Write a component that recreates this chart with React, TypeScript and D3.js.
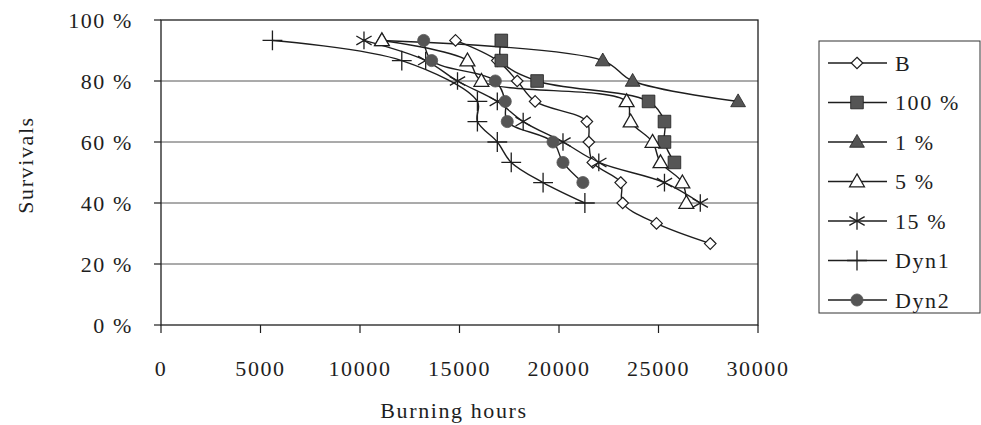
import React from 'react'
import * as d3 from 'd3'

// survival curves (hours, % surviving)
const B_HOURS = [14800, 16900, 17900, 18800, 21400, 21500, 21700, 23100, 23200, 24900, 27600]
const B_SURV = [93.3, 86.7, 80, 73.3, 66.7, 60, 53.3, 46.7, 40, 33.3, 26.7]

const P100_HOURS = [17100, 17100, 18900, 24500, 25300, 25300, 25800]
const P100_SURV = [93.3, 86.7, 80, 73.3, 66.7, 60, 53.3]

const P1_HOURS = [11100, 22200, 23700, 29000]
const P1_SURV = [93.3, 86.7, 80, 73.3]

const P5_HOURS = [11100, 15400, 16100, 23400, 23600, 24700, 25100, 26200, 26400]
const P5_SURV = [93.3, 86.7, 80, 73.3, 66.7, 60, 53.3, 46.7, 40]

const P15_HOURS = [10200, 13300, 14900, 16900, 18200, 20200, 22000, 25300, 27100]
const P15_SURV = [93.3, 86.7, 80, 73.3, 66.7, 60, 53.3, 46.7, 40]

const DYN1_HOURS = [5600, 12100, 15900, 15900, 16900, 17600, 19200, 21300]
const DYN1_SURV = [93.3, 86.7, 73.3, 66.7, 60, 53.3, 46.7, 40]

const DYN2_HOURS = [13200, 13600, 16800, 17300, 17400, 19700, 20200, 21200]
const DYN2_SURV = [93.3, 86.7, 80, 73.3, 66.7, 60, 53.3, 46.7]

const X_TICKS = [0, 5000, 10000, 15000, 20000, 25000, 30000]
const Y_TICKS = [0, 20, 40, 60, 80, 100]

type Mark = 'diamond' | 'square' | 'triFill' | 'triOpen' | 'asterisk' | 'plus' | 'circle'

interface Series { label: string; mark: Mark; hours: number[]; surv: number[] }

const SERIES: Series[] = [
  { label: 'B', mark: 'diamond', hours: B_HOURS, surv: B_SURV },
  { label: '100 %', mark: 'square', hours: P100_HOURS, surv: P100_SURV },
  { label: '1 %', mark: 'triFill', hours: P1_HOURS, surv: P1_SURV },
  { label: '5 %', mark: 'triOpen', hours: P5_HOURS, surv: P5_SURV },
  { label: '15 %', mark: 'asterisk', hours: P15_HOURS, surv: P15_SURV },
  { label: 'Dyn1', mark: 'plus', hours: DYN1_HOURS, surv: DYN1_SURV },
  { label: 'Dyn2', mark: 'circle', hours: DYN2_HOURS, surv: DYN2_SURV },
]

const W = 981, H = 425
const PL = 161, PR = 758, PT = 20, PB = 325
const INK = '#1e1e1e'
const DARK = '#555'
const FONT = '"Liberation Serif", "Times New Roman", serif'
const FS = 22
const LS = 1.6

const x = d3.scaleLinear().domain([0, 30000]).range([PL, PR])
const y = d3.scaleLinear().domain([0, 100]).range([PB, PT])

const line = d3.line<[number, number]>()
  .x(d => x(d[0])).y(d => y(d[1]))
  .curve(d3.curveCatmullRom.alpha(0.5))

function Marker({ mark, cx, cy }: { mark: Mark; cx: number; cy: number }) {
  const t = `translate(${cx},${cy})`
  switch (mark) {
    case 'diamond':
      return <path transform={t} d={d3.symbol(d3.symbolDiamond2, 85)()!} fill="#fff" stroke={INK} strokeWidth={1.2} />
    case 'square':
      return <path transform={t} d={d3.symbol(d3.symbolSquare, 160)()!} fill={DARK} stroke={INK} strokeWidth={0.8} />
    case 'triFill':
      return <path transform={`translate(${cx},${cy + 1})`} d={d3.symbol(d3.symbolTriangle, 95)()!} fill={DARK} stroke={INK} strokeWidth={0.8} />
    case 'triOpen':
      return <path transform={`translate(${cx},${cy + 1})`} d={d3.symbol(d3.symbolTriangle, 95)()!} fill="#fff" stroke={INK} strokeWidth={1.3} />
    case 'asterisk':
      return <path transform={t} d={d3.symbol(d3.symbolAsterisk, 220)()!} fill="none" stroke={INK} strokeWidth={1.3} />
    case 'plus':
      return <path transform={t} d={d3.symbol(d3.symbolPlus, 130)()!} fill="none" stroke={INK} strokeWidth={1.3} />
    case 'circle':
      return <path transform={t} d={d3.symbol(d3.symbolCircle, 115)()!} fill={DARK} stroke={DARK} strokeWidth={0.8} />
  }
}

export default function App() {
  const legendX = 819, legendY = 41, legendW = 161, legendH = 272
  const rowH = 39.5

  return (
    <div style={{ position: 'absolute', left: 0, top: 0, background: '#fff' }}>
      <svg width={W} height={H} viewBox={`0 0 ${W} ${H}`} style={{ display: 'block', fontFamily: FONT }}>
        <rect width={W} height={H} fill="#fff" />

        {/* grid */}
        {Y_TICKS.filter(v => v > 0 && v < 100).map(v => (
          <line key={v} x1={PL} x2={PR} y1={y(v)} y2={y(v)} stroke="#444" strokeWidth={0.9} />
        ))}

        {/* frame */}
        <rect x={PL} y={PT} width={PR - PL} height={PB - PT} fill="none" stroke={INK} strokeWidth={1.3} />

        {/* y axis */}
        {Y_TICKS.map(v => (
          <g key={v}>
            <line x1={PL - 7} x2={PL} y1={y(v)} y2={y(v)} stroke={INK} strokeWidth={1.2} />
            <text x={133} y={y(v)} dy="0.35em" textAnchor="end" fontSize={FS} fill={INK} letterSpacing={LS}>
              {`${v} %`}
            </text>
          </g>
        ))}

        {/* x axis */}
        {X_TICKS.map(v => (
          <g key={v}>
            <line x1={x(v)} x2={x(v)} y1={PB} y2={PB + 8} stroke={INK} strokeWidth={1.2} />
            <text x={x(v)} y={368} dy="0.35em" textAnchor="middle" fontSize={FS} fill={INK} letterSpacing={LS}>
              {v}
            </text>
          </g>
        ))}

        <text x={454} y={410} dy="0.35em" textAnchor="middle" fontSize={FS} fill={INK} letterSpacing={LS}>
          Burning hours
        </text>
        <text transform="translate(25,165) rotate(-90)" dy="0.35em" textAnchor="middle" fontSize={FS} fill={INK} letterSpacing={LS}>
          Survivals
        </text>

        {/* lines */}
        {SERIES.map(s => (
          <path key={s.label} d={line(s.hours.map((h, i) => [h, s.surv[i]] as [number, number]))!}
            fill="none" stroke={INK} strokeWidth={1.4} />
        ))}

        {/* markers */}
        {SERIES.map(s => (
          <g key={s.label}>
            {s.hours.map((h, i) => <Marker key={i} mark={s.mark} cx={x(h)} cy={y(s.surv[i])} />)}
          </g>
        ))}

        {/* legend */}
        <rect x={legendX} y={legendY} width={legendW} height={legendH} fill="#fff" stroke="#333" strokeWidth={1} />
        {SERIES.map((s, i) => {
          const cy = legendY + 22 + i * rowH
          return (
            <g key={s.label}>
              <line x1={828} x2={887} y1={cy} y2={cy} stroke={INK} strokeWidth={1.3} />
              <Marker mark={s.mark} cx={857} cy={cy} />
              <text x={895} y={cy} dy="0.35em" fontSize={FS} fill={INK} letterSpacing={LS}>{s.label}</text>
            </g>
          )
        })}
      </svg>
    </div>
  )
}
